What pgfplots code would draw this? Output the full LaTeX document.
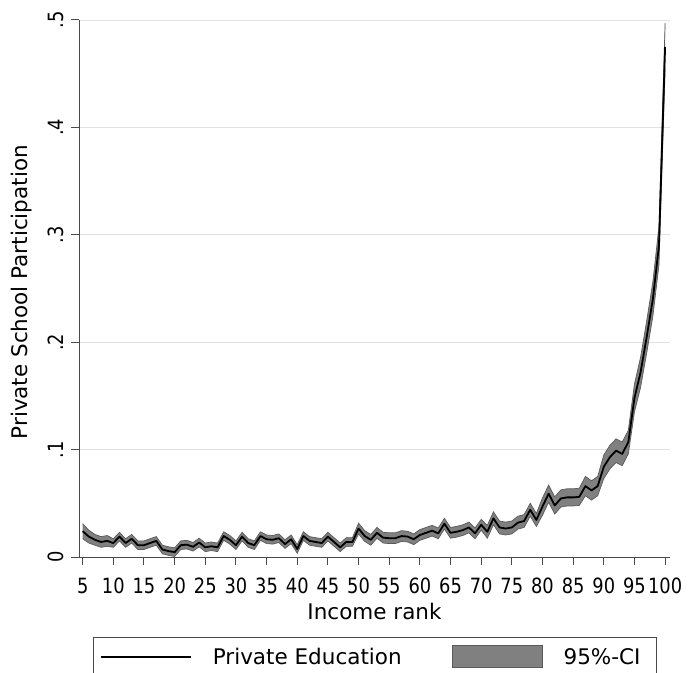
\documentclass[border=0pt]{standalone}
\usepackage{fontspec}
\setmainfont{DejaVu Sans}
\newfontfamily\tickfont[FakeStretch=0.85]{DejaVu Sans}
\usepackage{pgfplots}
\pgfplotsset{compat=1.18}
\usepgfplotslibrary{fillbetween}
\usepackage{pgfplotstable}

\pgfplotstableread{
x y lo hi
5 0.024 0.017 0.031
6 0.019 0.013 0.025
7 0.016 0.011 0.021
8 0.014 0.009 0.019
9 0.015 0.010 0.020
10 0.013 0.009 0.017
11 0.019 0.015 0.023
12 0.013 0.009 0.017
13 0.017 0.013 0.021
14 0.011 0.007 0.015
15 0.011 0.007 0.015
16 0.013 0.009 0.017
17 0.015 0.011 0.019
18 0.007 0.003 0.011
19 0.0055 0.0015 0.0095
20 0.0045 0.0005 0.0085
21 0.011 0.007 0.015
22 0.0115 0.0075 0.0155
23 0.0095 0.0055 0.0135
24 0.0135 0.0095 0.0175
25 0.009 0.005 0.013
26 0.010 0.006 0.014
27 0.009 0.005 0.013
28 0.0195 0.0155 0.0235
29 0.016 0.012 0.020
30 0.011 0.007 0.015
31 0.019 0.015 0.023
32 0.013 0.009 0.017
33 0.011 0.007 0.015
34 0.0195 0.0155 0.0235
35 0.0165 0.0125 0.0205
36 0.016 0.012 0.020
37 0.0175 0.0135 0.0215
38 0.012 0.008 0.016
39 0.0165 0.0125 0.0205
40 0.0075 0.0035 0.0115
41 0.0195 0.0155 0.0235
42 0.015 0.011 0.019
43 0.014 0.010 0.018
44 0.013 0.009 0.017
45 0.019 0.015 0.023
46 0.014 0.010 0.018
47 0.009 0.005 0.013
48 0.014 0.010 0.018
49 0.014 0.010 0.018
50 0.0265 0.0215 0.0315
51 0.0195 0.0145 0.0245
52 0.016 0.011 0.021
53 0.0225 0.0175 0.0275
54 0.018 0.013 0.023
55 0.0175 0.0125 0.0225
56 0.0175 0.0125 0.0225
57 0.0195 0.0145 0.0245
58 0.019 0.014 0.024
59 0.0165 0.0115 0.0215
60 0.0205 0.0155 0.0255
61 0.0225 0.0175 0.0275
62 0.0245 0.0195 0.0295
63 0.022 0.017 0.027
64 0.031 0.026 0.036
65 0.0225 0.0175 0.0275
66 0.0235 0.0185 0.0285
67 0.025 0.020 0.030
68 0.0275 0.0225 0.0325
69 0.022 0.017 0.027
70 0.030 0.025 0.035
71 0.0235 0.0175 0.0295
72 0.036 0.030 0.042
73 0.0275 0.0215 0.0335
74 0.0265 0.0205 0.0325
75 0.0275 0.0215 0.0335
76 0.032 0.026 0.038
77 0.0335 0.0275 0.0395
78 0.044 0.038 0.050
79 0.0345 0.0285 0.0405
80 0.047 0.039 0.055
81 0.059 0.051 0.067
82 0.048 0.040 0.056
83 0.0545 0.0465 0.0625
84 0.0555 0.0475 0.0635
85 0.0555 0.0475 0.0635
86 0.056 0.048 0.064
87 0.066 0.057 0.075
88 0.062 0.053 0.071
89 0.066 0.057 0.075
90 0.084 0.073 0.095
91 0.093 0.082 0.104
92 0.099 0.088 0.110
93 0.096 0.085 0.107
94 0.107 0.096 0.118
95 0.148 0.135 0.161
96 0.172 0.158 0.186
97 0.205 0.190 0.220
98 0.240 0.224 0.256
99 0.290 0.272 0.308
100 0.475 0.453 0.497
}\data

\definecolor{bandfill}{HTML}{808080}
\definecolor{bandedge}{HTML}{5A5A5A}
\definecolor{axisgray}{HTML}{4A4A4A}
\definecolor{gridgray}{HTML}{E2E2E2}

\begin{document}
\begin{tikzpicture}
\begin{axis}[
  at={(0bp,0bp)}, anchor=south west,
  scale only axis, width=591bp, height=537bp,
  xmin=4.4, xmax=100.8, ymin=0, ymax=0.5,
  axis x line*=bottom, axis y line*=left,
  xtick={5,10,15,20,25,30,35,40,45,50,55,60,65,70,75,80,85,90,95,100},
  ytick={0,0.1,0.2,0.3,0.4,0.5},
  yticklabels={0,.1,.2,.3,.4,.5},
  /pgf/number format/assume math mode=true,
  tick align=outside, major tick length=8bp,
  ymajorgrids, grid style={color=gridgray, line width=0.9bp},
  axis line style={axisgray, line width=1bp},
  tick style={axisgray, line width=1bp},
  xticklabel style={font=\tickfont\fontsize{21bp}{25bp}\selectfont, inner ysep=12.5bp},
  yticklabel style={font=\tickfont\fontsize{21bp}{25bp}\selectfont, rotate=90, anchor=south, inner ysep=7bp},
  xlabel={Income rank},
  ylabel={Private School Participation},
  every axis x label/.style={at={(axis description cs:0.5,-0.1015)}, anchor=center, font=\fontsize{21.5bp}{26bp}\selectfont},
  every axis y label/.style={at={(axis description cs:-0.0964,0.493)}, rotate=90, anchor=center, font=\fontsize{21.5bp}{26bp}\selectfont},
  legend columns=2,
  legend style={at={(axis description cs:0.0237,-0.14898)}, anchor=north west,
    draw=axisgray, line width=0.9bp, inner xsep=7bp, inner ysep=8bp,
    font=\fontsize{21.5bp}{26bp}\selectfont,
    nodes={inner sep=0pt},
    /tikz/every odd column/.append style={column sep=21bp},
    /tikz/column 2/.append style={column sep=50bp}},
]
\addplot[name path=hi, draw=none, forget plot] table[x=x,y=hi]{\data};
\addplot[name path=lo, draw=none, forget plot] table[x=x,y=lo]{\data};
\addplot[fill=bandfill, draw=none, forget plot] fill between[of=hi and lo];
\addplot[bandedge, line width=0.7bp, forget plot] table[x=x,y=hi]{\data};
\addplot[bandedge, line width=0.7bp, forget plot] table[x=x,y=lo]{\data};
\addplot[black, line width=1.8bp, line join=round, forget plot] table[x=x,y=y]{\data};
\addlegendimage{legend image code/.code={\draw[black, line width=1.4bp] (0bp,0bp) -- (90bp,0bp);}}
\addlegendentry{Private Education}
\addlegendimage{legend image code/.code={\draw[fill=bandfill, draw=bandedge, line width=0.9bp] (0bp,-11bp) rectangle (90bp,11bp);}}
\addlegendentry{95\%-CI\kern9bp\relax}
\end{axis}
\pgfresetboundingbox
\path[use as bounding box] (-79bp,-116bp) rectangle (609bp,557bp);
\end{tikzpicture}
\end{document}
